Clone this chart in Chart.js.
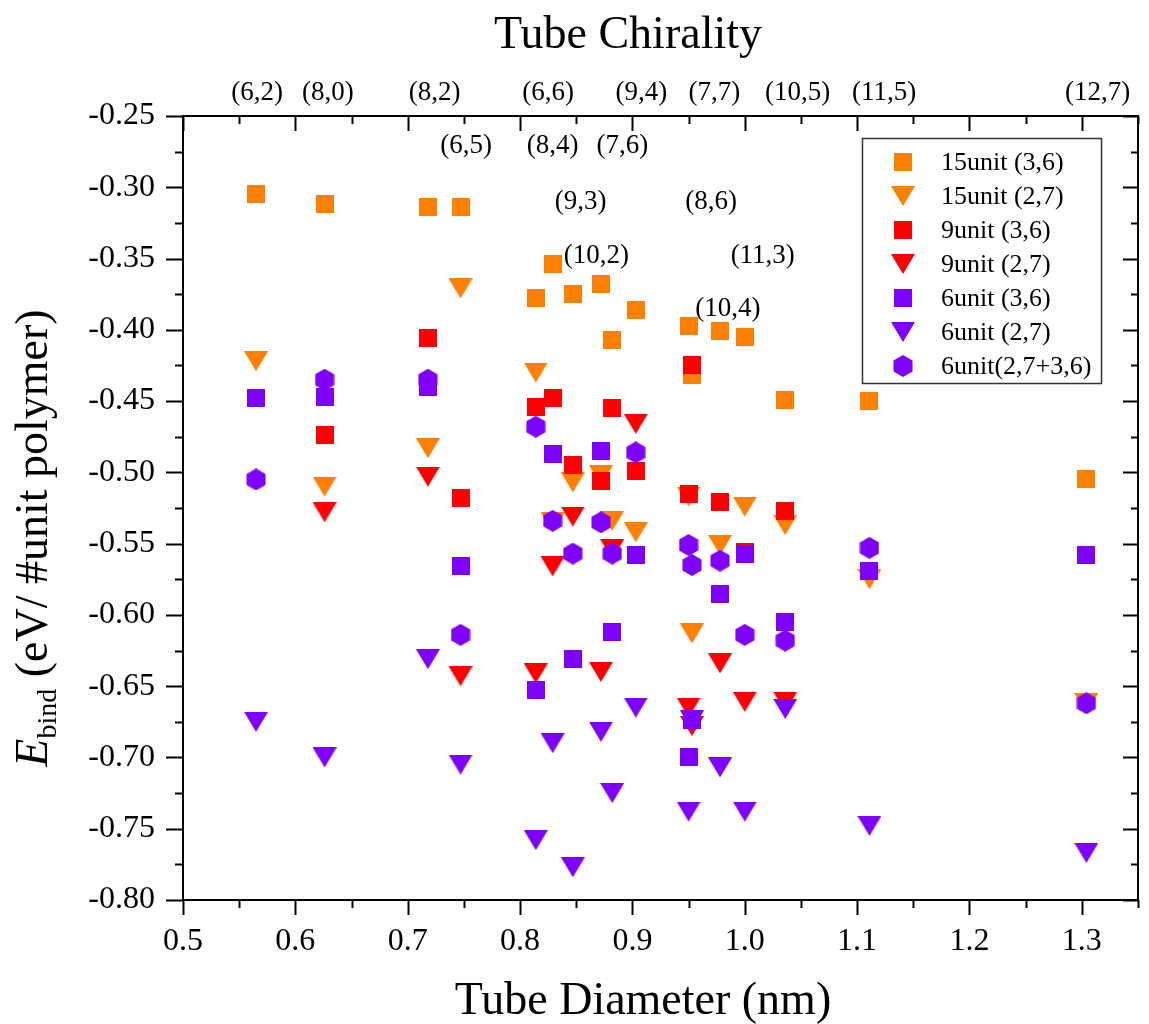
<!DOCTYPE html>
<html>
<head>
<meta charset="utf-8">
<script src="https://cdn.jsdelivr.net/npm/chart.js@4.4.1/dist/chart.umd.min.js"></script>
<style>
  html, body { margin: 0; padding: 0; background: #fff; }
  #wrap { width: 1149px; height: 1024px; }
</style>
</head>
<body>
<div id="wrap"><canvas id="c" width="1149" height="1024"></canvas></div>
<script>
// ---------------- DATA ----------------
const diameters  = [0.565, 0.626, 0.718, 0.747, 0.814, 0.829, 0.847, 0.872, 0.882, 0.903, 0.950, 0.953, 0.978, 1.000, 1.036, 1.111, 1.304];
const chiralities = ['(6,2)','(8,0)','(8,2)','(6,5)','(6,6)','(8,4)','(9,3)','(10,2)','(7,6)','(9,4)','(7,7)','(8,6)','(10,4)','(11,3)','(10,5)','(11,5)','(12,7)'];

const unit15_36 = [-0.305, -0.312, -0.314, -0.314, -0.378, -0.354, -0.375, -0.368, -0.407, -0.386, -0.397, -0.432, -0.401, -0.405, -0.449, -0.450, -0.505];
const unit15_27 = [-0.422, -0.510, -0.483, -0.371, -0.430, -0.535, -0.507, -0.502, -0.534, -0.542, -0.517, -0.613, -0.551, -0.524, -0.537, -0.575, -0.662];
const unit9_36  = [null, -0.474, -0.406, -0.518, -0.454, -0.448, -0.495, -0.506, -0.455, -0.499, -0.515, -0.425, -0.521, -0.556, -0.527, null, null];
const unit9_27  = [null, -0.528, -0.503, -0.643, -0.641, -0.566, -0.531, -0.640, -0.554, -0.466, -0.665, -0.678, -0.634, -0.661, -0.661, null, null];
const unit6_36  = [-0.448, -0.447, -0.440, -0.566, -0.653, -0.487, -0.631, -0.485, -0.612, -0.558, -0.700, -0.674, -0.585, -0.557, -0.605, -0.569, -0.558];
const unit6_27  = [-0.675, -0.700, -0.631, -0.705, -0.758, -0.690, -0.777, -0.682, -0.725, -0.665, -0.738, -0.674, -0.707, -0.738, -0.666, -0.748, -0.767];
const unit6_mix = [-0.505, -0.435, -0.435, -0.614, -0.468, -0.534, -0.557, -0.535, -0.557, -0.486, -0.551, -0.565, -0.562, -0.614, -0.618, -0.553, -0.662];

const seriesNames = ['15unit (3,6)', '15unit (2,7)', '9unit (3,6)', '9unit (2,7)', '6unit (3,6)', '6unit (2,7)', '6unit(2,7+3,6)'];
const xTickValues = [0.5, 0.6, 0.7, 0.8, 0.9, 1.0, 1.1, 1.2, 1.3];
const yTickValues = [-0.80, -0.75, -0.70, -0.65, -0.60, -0.55, -0.50, -0.45, -0.40, -0.35, -0.30, -0.25];

// ---------------- STYLE / LAYOUT ----------------
const ORANGE = '#FF8000', RED = '#FF0000', VIOLET = '#8000FF';
const FONT = "'Liberation Serif', 'Times New Roman', serif";

// chirality label placement (x in nm, row index)
const chiralityLabelLayout = {
  '(6,2)': [0.566, 0], '(8,0)': [0.629, 0], '(8,2)': [0.724, 0], '(6,6)': [0.825, 0], '(9,4)': [0.908, 0],
  '(7,7)': [0.973, 0], '(10,5)': [1.047, 0], '(11,5)': [1.124, 0], '(12,7)': [1.314, 0],
  '(6,5)': [0.752, 1], '(8,4)': [0.829, 1], '(7,6)': [0.891, 1],
  '(9,3)': [0.854, 2], '(8,6)': [0.970, 2],
  '(10,2)': [0.868, 3], '(11,3)': [1.016, 3],
  '(10,4)': [0.985, 4]
};
const rowY = [-0.234, -0.2712, -0.3103, -0.3482, -0.385];

function makeMarker(shape, color) {
  const c = document.createElement('canvas');
  let w, h;
  if (shape === 'square') { w = 18; h = 18; }
  else if (shape === 'tri') { w = 24; h = 20; }
  else { w = 20; h = 22; }
  c.width = w; c.height = h;
  const g = c.getContext('2d');
  g.fillStyle = color;
  g.beginPath();
  if (shape === 'square') {
    g.rect(0, 0, w, h);
  } else if (shape === 'tri') {
    g.moveTo(0, 0); g.lineTo(w, 0); g.lineTo(w / 2, h); g.closePath();
  } else {
    const r = 11, cx = w / 2, cy = h / 2;
    for (let k = 0; k < 6; k++) {
      const a = -Math.PI / 2 + k * Math.PI / 3;
      const px = cx + r * Math.cos(a), py = cy + r * Math.sin(a);
      if (k === 0) g.moveTo(px, py); else g.lineTo(px, py);
    }
    g.closePath();
  }
  g.fill();
  return c;
}

const markers = [
  makeMarker('square', ORANGE), makeMarker('tri', ORANGE),
  makeMarker('square', RED), makeMarker('tri', RED),
  makeMarker('square', VIOLET), makeMarker('tri', VIOLET),
  makeMarker('hex', VIOLET)
];
const seriesValues = [unit15_36, unit15_27, unit9_36, unit9_27, unit6_36, unit6_27, unit6_mix];

function toPoints(vals) {
  const pts = [];
  vals.forEach((v, i) => { if (v !== null) pts.push({ x: diameters[i], y: v }); });
  return pts;
}

const datasets = seriesValues.map((vals, i) => ({
  label: seriesNames[i],
  data: toPoints(vals),
  pointStyle: markers[i],
  pointRadius: 10,
  pointHoverRadius: 10,
  showLine: false,
  order: 7 - i
}));

// ---------------- DECORATION PLUGIN ----------------
const decor = {
  id: 'decor',
  afterDraw(chart) {
    const ctx = chart.ctx;
    const a = chart.chartArea;
    const xs = chart.scales.x, ys = chart.scales.y;
    ctx.save();
    ctx.strokeStyle = '#000';
    ctx.fillStyle = '#000';

    // frame
    ctx.lineWidth = 2;
    ctx.strokeRect(a.left, a.top, a.right - a.left, a.bottom - a.top);

    // ticks
    ctx.lineWidth = 2;
    ctx.beginPath();
    for (let v = 0.5; v <= 1.351; v += 0.05) {
      const major = Math.abs(Math.round(v * 10) - v * 10) < 1e-6;
      const px = Math.round(xs.getPixelForValue(v)) + 0.5;
      const L = major ? 15 : 8;
      ctx.moveTo(px, a.bottom); ctx.lineTo(px, a.bottom + L);
      ctx.moveTo(px, a.top); ctx.lineTo(px, a.top + L);
    }
    for (let k = 0; k <= 22; k++) {
      const v = -0.8 + k * 0.025;
      const major = k % 2 === 0;
      const py = Math.round(ys.getPixelForValue(v)) + 0.5;
      ctx.moveTo(a.left, py); ctx.lineTo(a.left - (major ? 17 : 8), py);
      ctx.moveTo(a.right, py); ctx.lineTo(a.right - (major ? 15 : 7), py);
    }
    ctx.stroke();

    // chirality labels
    ctx.font = '27px ' + FONT;
    ctx.textAlign = 'center';
    ctx.textBaseline = 'middle';
    chiralities.forEach(name => {
      const lay = chiralityLabelLayout[name];
      ctx.fillText(name, xs.getPixelForValue(lay[0]), ys.getPixelForValue(rowY[lay[1]]));
    });

    // top title
    ctx.font = '46px ' + FONT;
    ctx.textBaseline = 'alphabetic';
    ctx.textAlign = 'center';
    ctx.fillText('Tube Chirality', 628, 48);

    // x title
    ctx.fillText('Tube Diameter (nm)', 643, 1014);

    // y title (rotated)
    ctx.save();
    ctx.translate(47, 538);
    ctx.rotate(-Math.PI / 2);
    ctx.textAlign = 'left';
    const fE = 'italic 46px ' + FONT, fSub = '28px ' + FONT, fMain = '46px ' + FONT;
    ctx.font = fE; const wE = ctx.measureText('E').width;
    ctx.font = fSub; const wS = ctx.measureText('bind').width;
    const rest = ' (eV/ #unit polymer)';
    ctx.font = fMain; const wR = ctx.measureText(rest).width;
    let x0 = -(wE + wS + wR) / 2;
    ctx.font = fE; ctx.fillText('E', x0, 0); x0 += wE;
    ctx.font = fSub; ctx.fillText('bind', x0, 9); x0 += wS;
    ctx.font = fMain; ctx.fillText(rest, x0, 0);
    ctx.restore();

    // legend
    const lx = 862, ly = 138, lw = 239, lh = 245;
    ctx.fillStyle = '#fff';
    ctx.fillRect(lx, ly, lw, lh);
    ctx.lineWidth = 1.5;
    ctx.strokeStyle = '#333';
    ctx.strokeRect(lx + 0.5, ly + 0.5, lw, lh);
    ctx.fillStyle = '#000';
    ctx.font = '26px ' + FONT;
    ctx.textAlign = 'left';
    ctx.textBaseline = 'middle';
    seriesNames.forEach((name, i) => {
      const cy = 162 + i * 34;
      const m = markers[i];
      ctx.drawImage(m, 903 - m.width / 2, cy - m.height / 2);
      ctx.fillText(name, 941, cy + 1);
    });
    ctx.restore();
  }
};

// ---------------- CHART ----------------
new Chart(document.getElementById('c'), {
  type: 'scatter',
  data: { datasets },
  options: {
    responsive: false,
    animation: false,
    events: [],
    layout: { padding: { top: 116, right: 9, left: 0, bottom: 0 } },
    plugins: { legend: { display: false }, tooltip: { enabled: false }, title: { display: false } },
    scales: {
      x: {
        type: 'linear', min: 0.5, max: 1.35,
        grid: { display: false, drawTicks: false },
        border: { display: false },
        afterBuildTicks: s => { s.ticks = xTickValues.map(v => ({ value: v })); },
        afterFit: s => { s.height = 124; },
        ticks: {
          font: { family: FONT, size: 32 }, color: '#000', padding: 22,
          maxRotation: 0, autoSkip: false,
          callback: v => Number(v).toFixed(1)
        }
      },
      y: {
        type: 'linear', min: -0.8, max: -0.25,
        grid: { display: false, drawTicks: false },
        border: { display: false },
        afterBuildTicks: s => { s.ticks = yTickValues.map(v => ({ value: v })); },
        afterFit: s => { s.width = 183; },
        ticks: {
          font: { family: FONT, size: 32 }, color: '#000', padding: 28,
          autoSkip: false,
          callback: v => Number(v).toFixed(2)
        }
      }
    }
  },
  plugins: [decor]
});
</script>
</body>
</html>
